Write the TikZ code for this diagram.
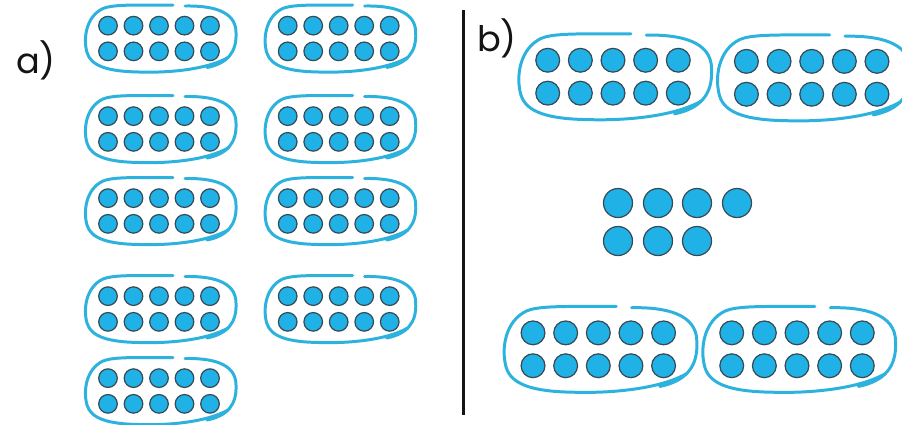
\documentclass[tikz,border=0pt]{standalone}
\usepackage{fontspec}
\setmainfont{Poppins}
\usetikzlibrary{positioning}
\definecolor{sky}{RGB}{45,178,222}
\definecolor{bead}{RGB}{32,178,230}
\definecolor{rim}{RGB}{55,75,85}
\definecolor{ink}{RGB}{20,20,20}
\tikzset{
  loop line/.style={draw=sky,line width=1.7pt,line cap=round},
  bead/.style={fill=bead,draw=rim,line width=0.7pt},
  lbl/.style={font=\fontsize{20}{24}\selectfont,inner sep=0pt,text=ink},
  % ten beads in a hand drawn loop
  pics/tenframe/.style={code={
    \draw[loop line] (26,-32.5) .. controls (52,-33) and (77,-28) .. (77,-6)
      .. controls (78,14) and (68,25) .. (48,29);
    \draw[loop line] (69,19) .. controls (48,31) and (10,34.5) .. (-20,33.5)
      .. controls (-50,33) and (-68,28) .. (-72,14) .. controls (-76,0) and (-73,-22) .. (-56,-30)
      .. controls (-48,-33.5) and (-30,-33.5) .. (-10,-33.5) -- (14,-33.5);
    \foreach \r in {-12.85,12.85} \foreach \c in {-51,-25.5,0,25.5,51} \draw[bead] (\c,\r) circle (9.3);
  }},
}
\begin{document}
\begin{tikzpicture}[x=0.02cm,y=-0.02cm]
        \useasboundingbox (0,0) rectangle (902,424);
        \node[lbl] (lbla) at (36,60) {a)};
        \node[lbl] (lblb) at (497,38) {b)};
        \foreach \x/\y [count=\i] in {159/38.5,338.7/38.5,159/129,338.7/129,159/211,338.7/211,159/309,338.7/309,159/391} {\pic (a\i) at (\x,\y) {tenframe};}
        \coordinate (top) at (463.5,10);
        \coordinate (bot) at (463.5,415);
        \draw[ink,line width=1.2pt] (top) -- (bot);
        \foreach \x/\y [count=\i] in {613/76.7,811.7/77.8,598.3/349.3,797/349.3} {\pic[scale=1.28] (b\i) at (\x,\y) {tenframe};}
        \foreach \x/\y in {618/203,658/203,697/203,737/203,618/241,658/241,697/241} {\draw[bead] (\x,\y) circle (14.5);}
      \end{tikzpicture}
\end{document}
